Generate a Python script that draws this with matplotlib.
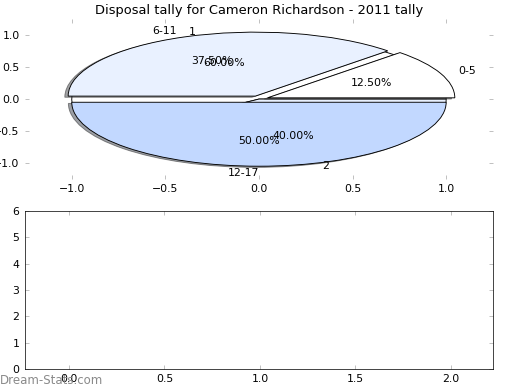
import matplotlib
matplotlib.use("Agg")
import matplotlib.pyplot as plt

age_labels = ['0-5', '6-11', '12-17']
age_counts = [1, 3, 4]
group_labels = ['1', '2']
group_counts = [3, 2]
age_colors = ['#ffffff', '#e9f1ff', '#c2d8ff']

plt.rcParams['font.size'] = 12
plt.rcParams['xtick.direction'] = 'in'
plt.rcParams['ytick.direction'] = 'in'
plt.rcParams['xtick.top'] = True
plt.rcParams['ytick.right'] = True

fig = plt.figure(figsize=(8, 6), dpi=65)
ax1 = fig.add_axes([0.048, 0.541, 0.9, 0.41])
ax2 = fig.add_axes([0.048, 0.054, 0.9, 0.405])

# second pie sits underneath everything, only its labels show through
ax1.pie(group_counts, labels=group_labels, autopct='%1.2f%%',
        colors=age_colors[:2],
        wedgeprops={'edgecolor': 'black', 'linewidth': 1, 'zorder': 0.5})
# shadow offset is in data units (x dpi/72), so keep it small
wedges, texts, autotexts = ax1.pie(
    age_counts, labels=age_labels, autopct='%1.2f%%', colors=age_colors,
    explode=(0.05, 0.05, 0.05),
    shadow={'ox': -0.02, 'oy': -0.02, 'edgecolor': '#222222', 'linewidth': 1},
    wedgeprops={'edgecolor': 'black', 'linewidth': 1})
texts[2].set_ha('right')  # '12-17' sits just left of centre in the original

ax1.set_aspect('auto')
ax1.set_xlim(-1.25, 1.25)
ax1.set_ylim(-1.25, 1.25)
ax1.set_xticks([-1.0, -0.5, 0.0, 0.5, 1.0])
ax1.set_yticks([-1.0, -0.5, 0.0, 0.5, 1.0])
ax1.set_title('Disposal tally for Cameron Richardson - 2011 tally', fontsize=14.4)

ax2.set_xlim(-0.23, 2.22)
ax2.set_ylim(0, 6)
ax2.set_xticks([0.0, 0.5, 1.0, 1.5, 2.0])
ax2.set_yticks(range(7))
for a in (ax1, ax2):
    a.tick_params(length=4, color='#aaaaaa', pad=6)

fig.text(0.0, 0.025, 'Dream-Stats.com', fontsize=13, color='#8a8a8a',
         ha='left', va='center')

fig.savefig('out.png', dpi=65)
